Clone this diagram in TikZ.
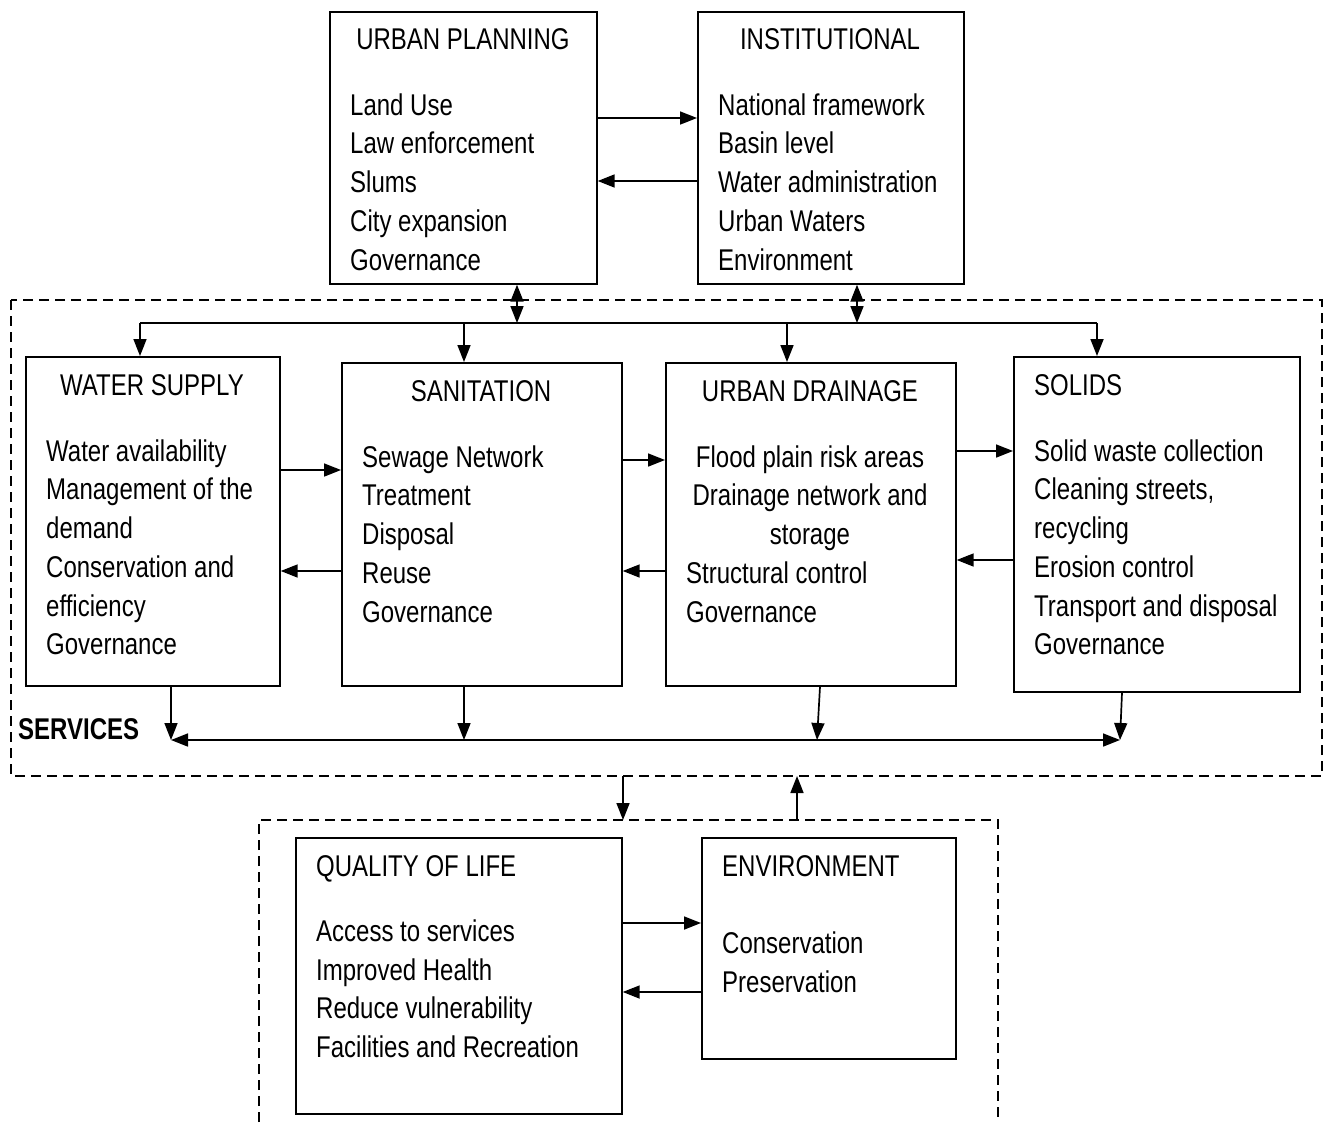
\documentclass[tikz,border=0pt]{standalone}
\usepackage{fontspec}
\setmainfont{Liberation Sans}[FakeStretch=0.8]
\usetikzlibrary{arrows.meta}
\newcommand\myfs{\fontsize{30}{36}\selectfont}
\begin{document}
\begin{tikzpicture}[x=1pt,y=-1pt,
  box/.style={draw, line width=1.7pt, inner sep=0pt, anchor=north west},
  ttl/.style={inner sep=0pt, anchor=base, font=\myfs},
  itm/.style={inner sep=0pt, anchor=base west, font=\myfs},
  itc/.style={inner sep=0pt, anchor=base, font=\myfs},
  arr/.style={line width=1.7pt, -{Triangle[length=17pt,width=13pt]}},
  darr/.style={line width=1.7pt, {Triangle[length=17pt,width=13pt]}-{Triangle[length=17pt,width=13pt]}},
  ln/.style={line width=1.7pt},
  dash box/.style={line width=1.7pt, dash pattern=on 10pt off 6pt}
]
\useasboundingbox (0,0) rectangle (1330,1122);

% ---------- top boxes
\node[box, minimum width=267pt, minimum height=272pt] (up) at (329,11) {};
\node[ttl] (upt) at (463,49) {URBAN PLANNING};
\node[itm] at (350,115) {Land Use};
\node[itm] at (350,153) {Law enforcement};
\node[itm] at (350,192) {Slums};
\node[itm] at (350,231) {City expansion};
\node[itm] at (350,270) {Governance};

\node[box, minimum width=266pt, minimum height=272pt] (ins) at (697,11) {};
\node[ttl] (inst) at (830,49) {INSTITUTIONAL};
\node[itm] at (718,115) {National framework};
\node[itm] at (718,153) {Basin level};
\node[itm] at (718,192) {Water administration};
\node[itm] at (718,231) {Urban Waters};
\node[itm] at (718,270) {Environment};

\draw[arr] (up.east |- 0,118) -- (ins.west |- 0,118);
\draw[arr] (ins.west |- 0,181) -- (up.east |- 0,181);

% ---------- services dashed frame
\draw[dash box] (11,300) rectangle (1322,776);
\node[inner sep=0pt, anchor=base west, font=\myfs\bfseries] (serv) at (18,739) {SERVICES};

% services boxes
\node[box, minimum width=254pt, minimum height=329pt] (ws) at (25,356) {};
\node[ttl] at (152,395) {WATER SUPPLY};
\node[itm] at (46,461) {Water availability};
\node[itm] at (46,499) {Management of the};
\node[itm] at (46,538) {demand};
\node[itm] at (46,577) {Conservation and};
\node[itm] at (46,616) {efficiency};
\node[itm] at (46,654) {Governance};

\node[box, minimum width=280pt, minimum height=323pt] (san) at (341,362) {};
\node[ttl] at (481,401) {SANITATION};
\node[itm] at (362,467) {Sewage Network};
\node[itm] at (362,505) {Treatment};
\node[itm] at (362,544) {Disposal};
\node[itm] at (362,583) {Reuse};
\node[itm] at (362,622) {Governance};

\node[box, minimum width=290pt, minimum height=323pt] (ud) at (665,362) {};
\node[ttl] at (810,401) {URBAN DRAINAGE};
\node[itc] at (810,467) {Flood plain risk areas};
\node[itc] at (810,505) {Drainage network and};
\node[itc] at (810,544) {storage};
\node[itm] at (686,583) {Structural control};
\node[itm] at (686,622) {Governance};

\node[box, minimum width=286pt, minimum height=335pt] (sol) at (1013,356) {};
\node[itm] at (1034,395) {SOLIDS};
\node[itm] at (1034,461) {Solid waste collection};
\node[itm] at (1034,499) {Cleaning streets,};
\node[itm] at (1034,538) {recycling};
\node[itm] at (1034,577) {Erosion control};
\node[itm] at (1034,616) {Transport and disposal};
\node[itm] at (1034,654) {Governance};

% links between services
\draw[arr] (ws.east |- 0,470) -- (san.west |- 0,470);
\draw[arr] (san.west |- 0,571) -- (ws.east |- 0,571);
\draw[arr] (san.east |- 0,460) -- (ud.west |- 0,460);
\draw[arr] (ud.west |- 0,571) -- (san.east |- 0,571);
\draw[arr] (ud.east |- 0,451) -- (sol.west |- 0,451);
\draw[arr] (sol.west |- 0,560) -- (ud.east |- 0,560);

% top distribution bus
\coordinate (busL) at (140,323);
\coordinate (busR) at (1097,323);
\draw[ln] (busL) -- (busR);
\draw[darr] (up.south -| 517,0) -- (517,323);
\draw[darr] (ins.south -| 857,0) -- (857,323);
\draw[arr] (busL) -- (ws.north -| busL);
\draw[arr] (464,323) -- (san.north -| 464,0);
\draw[arr] (787,323) -- (ud.north -| 787,0);
\draw[arr] (busR) -- (sol.north -| busR);

% bottom collection bus
\coordinate (cL) at (171,740);
\coordinate (cR) at (1120,740);
\draw[darr] (cL) -- (cR);
\draw[arr] (ws.south -| 171,0) -- (cL);
\draw[arr] (san.south -| 464,0) -- (464,740);
\draw[arr] (ud.south -| 820,0) -- (817,740);
\draw[arr] (sol.south -| 1122,0) -- (cR);

% ---------- lower dashed frame
\draw[dash box] (259,1122) -- (259,820) -- (998,820) -- (998,1122);
\coordinate (dn1) at (623,776);
\coordinate (dn2) at (623,820);
\coordinate (up1) at (797,820);
\coordinate (up2) at (797,776);
\draw[arr] (dn1) -- (dn2);
\draw[arr] (up1) -- (up2);

\node[box, minimum width=326pt, minimum height=276pt] (ql) at (295,837) {};
\node[itm] at (316,876) {QUALITY OF LIFE};
\node[itm] at (316,941) {Access to services};
\node[itm] at (316,980) {Improved Health};
\node[itm] at (316,1018) {Reduce vulnerability};
\node[itm] at (316,1057) {Facilities and Recreation};

\node[box, minimum width=254pt, minimum height=221pt] (env) at (701,837) {};
\node[itm] at (722,876) {ENVIRONMENT};
\node[itm] at (722,953) {Conservation};
\node[itm] at (722,992) {Preservation};

\draw[arr] (ql.east |- 0,923) -- (env.west |- 0,923);
\draw[arr] (env.west |- 0,992) -- (ql.east |- 0,992);
\end{tikzpicture}
\end{document}
